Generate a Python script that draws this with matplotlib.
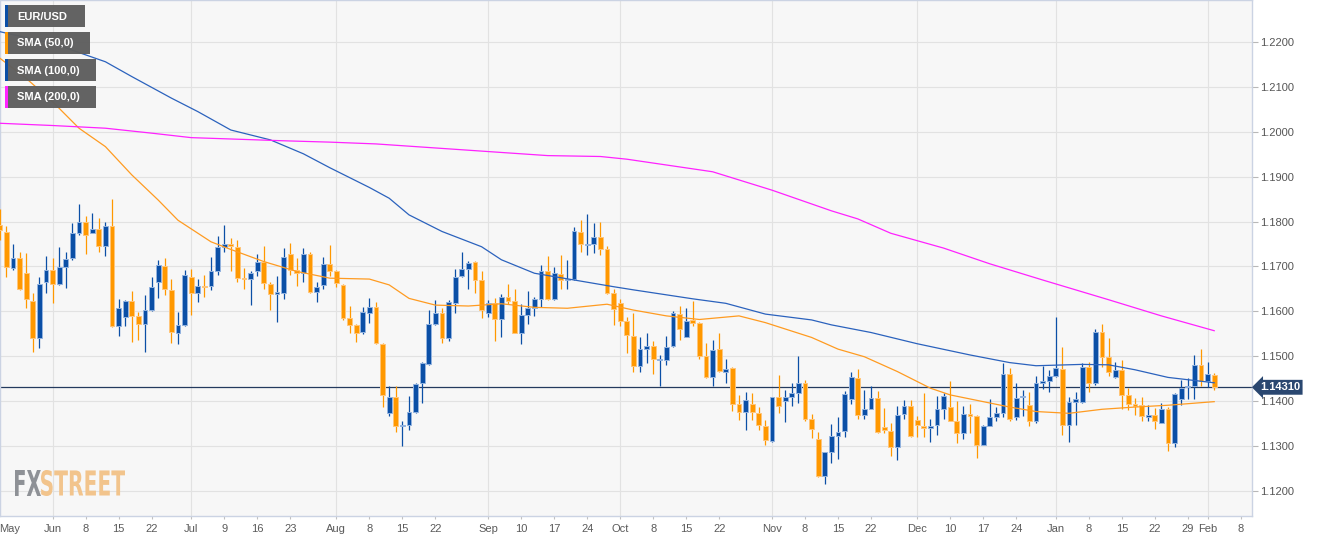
import numpy as np
import pandas as pd
import matplotlib
matplotlib.use("Agg")
import matplotlib.pyplot as plt
from matplotlib.textpath import TextPath
from matplotlib.patches import PathPatch, Rectangle
from matplotlib.font_manager import FontProperties
from matplotlib.transforms import Affine2D, blended_transform_factory

plt.rcParams['font.family'] = ['Liberation Sans', 'DejaVu Sans']

start = "2018-05-22"

# daily candles EUR/USD
opens = [1.1792, 1.1777, 1.1696, 1.1719, 1.1686, 1.1624, 1.1540, 1.1666, 1.1692, 1.1661,
         1.1699, 1.1718, 1.1774, 1.1799, 1.1775, 1.1783, 1.1745, 1.1791, 1.1568, 1.1588,
         1.1623, 1.1590, 1.1571, 1.1603, 1.1665, 1.1702, 1.1647, 1.1553, 1.1570, 1.1676,
         1.1640, 1.1657, 1.1657, 1.1691, 1.1744, 1.1751, 1.1743, 1.1674, 1.1672, 1.1691,
         1.1711, 1.1661, 1.1639, 1.1642, 1.1727, 1.1692, 1.1686, 1.1728, 1.1644, 1.1659,
         1.1706, 1.1691, 1.1659, 1.1585, 1.1569, 1.1554, 1.1596, 1.1609, 1.1527, 1.1373,
         1.1410, 1.1345, 1.1346, 1.1377, 1.1440, 1.1483, 1.1572, 1.1597, 1.1540, 1.1618,
         1.1679, 1.1694, 1.1709, 1.1671, 1.1597, 1.1619, 1.1582, 1.1631, 1.1623, 1.1551,
         1.1593, 1.1607, 1.1627, 1.1690, 1.1627, 1.1683, 1.1670, 1.1672, 1.1776, 1.1748,
         1.1749, 1.1766, 1.1739, 1.1642, 1.1618, 1.1579, 1.1546, 1.1479, 1.1516, 1.1523,
         1.1491, 1.1492, 1.1522, 1.1594, 1.1542, 1.1581, 1.1574, 1.1501, 1.1453, 1.1516,
         1.1466, 1.1473, 1.1393, 1.1375, 1.1394, 1.1373, 1.1345, 1.1312, 1.1409, 1.1401,
         1.1409, 1.1419, 1.1441, 1.1361, 1.1316, 1.1234, 1.1286, 1.1323, 1.1334, 1.1404,
         1.1451, 1.1369, 1.1383, 1.1407, 1.1342, 1.1334, 1.1297, 1.1371, 1.1390, 1.1358,
         1.1345, 1.1340, 1.1346, 1.1383, 1.1388, 1.1355, 1.1329, 1.1371, 1.1366, 1.1303,
         1.1345, 1.1365, 1.1373, 1.1461, 1.1364, 1.1410, 1.1392, 1.1355, 1.1441, 1.1444,
         1.1456, 1.1472, 1.1346, 1.1399, 1.1398, 1.1477, 1.1441, 1.1555, 1.1498, 1.1455,
         1.1470, 1.1414, 1.1393, 1.1392, 1.1364, 1.1369, 1.1352, 1.1382, 1.1308, 1.1405,
         1.1431, 1.1434, 1.1481, 1.1445, 1.1459]
highs = [1.1829, 1.1791, 1.1751, 1.1733, 1.1729, 1.1640, 1.1676, 1.1724, 1.1718, 1.1744,
         1.1733, 1.1796, 1.1840, 1.1812, 1.1820, 1.1809, 1.1800, 1.1851, 1.1627, 1.1625,
         1.1645, 1.1598, 1.1636, 1.1676, 1.1714, 1.1718, 1.1673, 1.1599, 1.1692, 1.1694,
         1.1673, 1.1681, 1.1722, 1.1768, 1.1793, 1.1763, 1.1758, 1.1696, 1.1690, 1.1727,
         1.1746, 1.1666, 1.1678, 1.1741, 1.1752, 1.1718, 1.1741, 1.1733, 1.1665, 1.1722,
         1.1748, 1.1692, 1.1661, 1.1611, 1.1572, 1.1609, 1.1629, 1.1620, 1.1529, 1.1433,
         1.1433, 1.1356, 1.1412, 1.1441, 1.1488, 1.1603, 1.1625, 1.1607, 1.1625, 1.1694,
         1.1733, 1.1712, 1.1712, 1.1691, 1.1625, 1.1629, 1.1639, 1.1660, 1.1651, 1.1616,
         1.1646, 1.1633, 1.1703, 1.1723, 1.1700, 1.1726, 1.1714, 1.1789, 1.1803, 1.1817,
         1.1796, 1.1798, 1.1745, 1.1651, 1.1627, 1.1588, 1.1596, 1.1542, 1.1551, 1.1534,
         1.1503, 1.1546, 1.1600, 1.1611, 1.1607, 1.1623, 1.1577, 1.1529, 1.1536, 1.1553,
         1.1493, 1.1477, 1.1414, 1.1421, 1.1418, 1.1388, 1.1358, 1.1410, 1.1458, 1.1425,
         1.1441, 1.1501, 1.1447, 1.1371, 1.1332, 1.1286, 1.1349, 1.1364, 1.1423, 1.1464,
         1.1471, 1.1424, 1.1434, 1.1423, 1.1384, 1.1351, 1.1389, 1.1403, 1.1403, 1.1367,
         1.1419, 1.1360, 1.1412, 1.1419, 1.1444, 1.1401, 1.1389, 1.1393, 1.1370, 1.1347,
         1.1404, 1.1388, 1.1486, 1.1475, 1.1441, 1.1425, 1.1421, 1.1456, 1.1478, 1.1470,
         1.1588, 1.1520, 1.1410, 1.1421, 1.1486, 1.1488, 1.1560, 1.1572, 1.1541, 1.1488,
         1.1492, 1.1429, 1.1407, 1.1410, 1.1392, 1.1384, 1.1395, 1.1386, 1.1418, 1.1447,
         1.1451, 1.1503, 1.1516, 1.1488, 1.1462]
lows = [1.1759, 1.1676, 1.1692, 1.1647, 1.1607, 1.1510, 1.1518, 1.1640, 1.1618, 1.1659,
        1.1653, 1.1714, 1.1770, 1.1728, 1.1774, 1.1733, 1.1724, 1.1566, 1.1545, 1.1567,
        1.1532, 1.1536, 1.1509, 1.1601, 1.1630, 1.1636, 1.1529, 1.1527, 1.1567, 1.1592,
        1.1620, 1.1633, 1.1648, 1.1680, 1.1733, 1.1691, 1.1666, 1.1649, 1.1615, 1.1678,
        1.1649, 1.1603, 1.1576, 1.1627, 1.1681, 1.1657, 1.1665, 1.1642, 1.1620, 1.1649,
        1.1679, 1.1654, 1.1581, 1.1551, 1.1531, 1.1549, 1.1574, 1.1528, 1.1388, 1.1366,
        1.1331, 1.1301, 1.1335, 1.1374, 1.1395, 1.1481, 1.1570, 1.1530, 1.1535, 1.1596,
        1.1677, 1.1651, 1.1642, 1.1585, 1.1588, 1.1533, 1.1542, 1.1616, 1.1551, 1.1527,
        1.1572, 1.1590, 1.1609, 1.1625, 1.1625, 1.1651, 1.1649, 1.1671, 1.1733, 1.1726,
        1.1729, 1.1726, 1.1638, 1.1570, 1.1568, 1.1507, 1.1464, 1.1464, 1.1485, 1.1461,
        1.1433, 1.1481, 1.1520, 1.1536, 1.1542, 1.1568, 1.1494, 1.1451, 1.1433, 1.1466,
        1.1440, 1.1379, 1.1358, 1.1336, 1.1358, 1.1336, 1.1303, 1.1310, 1.1373, 1.1353,
        1.1390, 1.1395, 1.1355, 1.1317, 1.1232, 1.1215, 1.1263, 1.1271, 1.1321, 1.1393,
        1.1360, 1.1360, 1.1382, 1.1329, 1.1329, 1.1277, 1.1269, 1.1360, 1.1320, 1.1320,
        1.1320, 1.1310, 1.1325, 1.1361, 1.1355, 1.1306, 1.1315, 1.1330, 1.1273, 1.1303,
        1.1345, 1.1355, 1.1365, 1.1355, 1.1358, 1.1366, 1.1345, 1.1352, 1.1427, 1.1421,
        1.1455, 1.1325, 1.1310, 1.1346, 1.1395, 1.1421, 1.1436, 1.1477, 1.1456, 1.1451,
        1.1382, 1.1381, 1.1369, 1.1355, 1.1355, 1.1337, 1.1351, 1.1290, 1.1299, 1.1392,
        1.1406, 1.1404, 1.1434, 1.1432, 1.1424]
closes = [1.1781, 1.1698, 1.1719, 1.1651, 1.1627, 1.1540, 1.1662, 1.1692, 1.1660, 1.1698,
          1.1717, 1.1774, 1.1799, 1.1771, 1.1784, 1.1745, 1.1791, 1.1568, 1.1608, 1.1623,
          1.1590, 1.1572, 1.1604, 1.1655, 1.1703, 1.1649, 1.1555, 1.1570, 1.1681, 1.1640,
          1.1657, 1.1655, 1.1690, 1.1743, 1.1751, 1.1746, 1.1675, 1.1672, 1.1685, 1.1711,
          1.1664, 1.1639, 1.1643, 1.1721, 1.1692, 1.1686, 1.1728, 1.1644, 1.1655, 1.1706,
          1.1691, 1.1663, 1.1585, 1.1569, 1.1553, 1.1598, 1.1609, 1.1529, 1.1413, 1.1410,
          1.1345, 1.1347, 1.1377, 1.1438, 1.1484, 1.1571, 1.1597, 1.1540, 1.1622, 1.1677,
          1.1694, 1.1707, 1.1671, 1.1603, 1.1619, 1.1583, 1.1631, 1.1624, 1.1553, 1.1592,
          1.1607, 1.1627, 1.1690, 1.1627, 1.1685, 1.1670, 1.1672, 1.1778, 1.1749, 1.1749,
          1.1766, 1.1739, 1.1640, 1.1605, 1.1579, 1.1548, 1.1479, 1.1516, 1.1523, 1.1493,
          1.1493, 1.1520, 1.1596, 1.1560, 1.1579, 1.1575, 1.1501, 1.1453, 1.1514, 1.1468,
          1.1471, 1.1394, 1.1377, 1.1403, 1.1375, 1.1347, 1.1314, 1.1410, 1.1389, 1.1409,
          1.1418, 1.1440, 1.1361, 1.1338, 1.1234, 1.1286, 1.1323, 1.1332, 1.1416, 1.1453,
          1.1369, 1.1383, 1.1407, 1.1332, 1.1335, 1.1297, 1.1369, 1.1390, 1.1323, 1.1346,
          1.1340, 1.1345, 1.1382, 1.1412, 1.1357, 1.1329, 1.1371, 1.1366, 1.1303, 1.1345,
          1.1364, 1.1373, 1.1461, 1.1360, 1.1407, 1.1412, 1.1355, 1.1440, 1.1444, 1.1456,
          1.1473, 1.1346, 1.1399, 1.1404, 1.1477, 1.1441, 1.1555, 1.1499, 1.1464, 1.1470,
          1.1414, 1.1394, 1.1389, 1.1366, 1.1369, 1.1355, 1.1382, 1.1308, 1.1415, 1.1429,
          1.1434, 1.1481, 1.1445, 1.1460, 1.1431]

# moving averages, read at some trading-day positions
sma50_idx = [0, 4, 8, 12, 16, 20, 24, 27, 32, 35, 40, 45, 50, 56, 59, 62, 66, 71, 76, 81,
             86, 92, 96, 101, 106, 112, 116, 123, 127, 131, 136, 141, 144, 149, 153, 157,
             162, 167, 172, 177, 184]
sma50_val = [1.2164, 1.2119, 1.2067, 1.2008, 1.1967, 1.1904, 1.1848, 1.1803, 1.1755, 1.1738,
             1.1711, 1.1689, 1.1674, 1.1672, 1.1659, 1.1629, 1.1614, 1.1612, 1.1617, 1.1609,
             1.1607, 1.1616, 1.1603, 1.1590, 1.1582, 1.1590, 1.1575, 1.1542, 1.1516, 1.1499,
             1.1466, 1.1429, 1.1414, 1.1399, 1.1387, 1.1377, 1.1373, 1.1382, 1.1387, 1.1391,
             1.1399]
sma100_idx = [0, 8, 16, 20, 26, 30, 35, 41, 46, 50, 56, 59, 62, 67, 73, 76, 81, 93, 96,
              105, 110, 116, 123, 126, 132, 139, 147, 153, 157, 164, 168, 172, 177, 184]
sma100_val = [1.2223, 1.2197, 1.2156, 1.2123, 1.2075, 1.2045, 1.2004, 1.1982, 1.1951, 1.1920,
              1.1876, 1.1852, 1.1815, 1.1778, 1.1744, 1.1715, 1.1685, 1.1655, 1.1648, 1.1628,
              1.1618, 1.1594, 1.1581, 1.1570, 1.1553, 1.1528, 1.1503, 1.1486, 1.1479, 1.1482,
              1.1481, 1.1470, 1.1453, 1.1441]
sma200_idx = [0, 8, 16, 23, 29, 35, 43, 50, 57, 68, 74, 83, 91, 95, 108, 117, 126, 130,
              135, 143, 150, 158, 168, 176, 184]
sma200_val = [1.2019, 1.2014, 1.2008, 1.1997, 1.1987, 1.1984, 1.1980, 1.1977, 1.1973, 1.1962,
              1.1956, 1.1947, 1.1945, 1.1939, 1.1911, 1.1870, 1.1824, 1.1806, 1.1774, 1.1741,
              1.1706, 1.1670, 1.1626, 1.1590, 1.1557]

last_price = 1.1431

tick_dates = ["2018-06-01", "2018-06-08", "2018-06-15", "2018-06-22", "2018-07-02",
              "2018-07-09", "2018-07-16", "2018-07-23", "2018-08-01", "2018-08-08",
              "2018-08-15", "2018-08-22", "2018-09-03", "2018-09-10", "2018-09-17",
              "2018-09-24", "2018-10-01", "2018-10-08", "2018-10-15", "2018-10-22",
              "2018-11-01", "2018-11-08", "2018-11-15", "2018-11-22", "2018-12-03",
              "2018-12-10", "2018-12-17", "2018-12-24", "2019-01-01", "2019-01-08",
              "2019-01-15", "2019-01-22", "2019-01-29", "2019-02-01", "2019-02-08"]

legend_names = ["EUR/USD", "SMA (50,0)", "SMA (100,0)", "SMA (200,0)"]

col_up = "#0b4fa6"
col_up_edge = "#93b3df"
col_dn = "#ff9800"
col_dn_edge = "#ffc57a"
col_sma50 = "#ff9b21"
col_sma100 = "#2b62bd"
col_sma200 = "#ff22ff"
legend_cols = [col_up, col_dn, col_up, col_sma200]

W, H = 1323, 541


def draw_candles(ax, o, h, l, c):
    o = np.array(o); h = np.array(h); l = np.array(l); c = np.array(c)
    idx = np.arange(len(o))
    up = c >= o
    ax.vlines(idx[up], l[up], h[up], color=col_up, lw=0.9, zorder=3)
    ax.vlines(idx[~up], l[~up], h[~up], color=col_dn, lw=0.9, zorder=3)
    bottom = np.minimum(o, c)
    height = np.maximum(np.abs(c - o), 0.00004)
    ax.bar(idx[up], height[up], bottom=bottom[up], width=0.72, color=col_up,
           edgecolor=col_up_edge, lw=0.7, zorder=4)
    ax.bar(idx[~up], height[~up], bottom=bottom[~up], width=0.72, color=col_dn,
           edgecolor=col_dn_edge, lw=0.7, zorder=4)


def draw_logo(fig):
    fp = FontProperties(family="DejaVu Sans", weight="bold")
    to_fig = Affine2D().scale(1.0 / W, 1.0 / H) + fig.transFigure
    # (text, left px, width px, colour)
    parts = [("FX", 15, 26, "#8e9196"), ("STREET", 41, 84, "#f2c48c")]
    for txt, x0, wd, col in parts:
        tp = TextPath((0, 0), txt, size=100, prop=fp)
        ext = tp.get_extents()
        aff = Affine2D().translate(-ext.x0, -ext.y0).scale(wd / ext.width, 26 / ext.height)
        aff = aff.translate(x0, H - 496)
        fig.add_artist(PathPatch(aff.transform_path(tp), fc=col, ec="none",
                                 transform=to_fig))


def draw_legend(fig):
    widths = [80, 85, 91, 91]
    for k, name in enumerate(legend_names):
        top = 5 + k * 27
        fig.add_artist(Rectangle((5 / W, 1 - (top + 22) / H), widths[k] / W, 22 / H,
                                 transform=fig.transFigure, fc="#5e5e5e", ec="none",
                                 alpha=0.97, zorder=10))
        fig.add_artist(Rectangle((5 / W, 1 - (top + 22) / H), 3 / W, 22 / H,
                                 transform=fig.transFigure, fc=legend_cols[k], ec="none",
                                 zorder=11))
        fig.text(17 / W, 1 - (top + 11.5) / H, name, color="white", fontsize=8,
                 fontweight="bold", va="center", ha="left", zorder=12)


fig = plt.figure(figsize=(W / 100, H / 100), dpi=100)
fig.patch.set_facecolor("white")
ax = fig.add_axes([0, 25 / H, 1252 / W, 516 / H])
ax.set_facecolor("#f7f7f7")

draw_candles(ax, opens, highs, lows, closes)
ax.plot(sma50_idx, sma50_val, color=col_sma50, lw=0.9, zorder=5)
ax.plot(sma100_idx, sma100_val, color=col_sma100, lw=0.9, zorder=5)
ax.plot(sma200_idx, sma200_val, color=col_sma200, lw=0.9, zorder=5)
ax.axhline(last_price, color="#243a5e", lw=0.9, zorder=2)

# x axis: trading day index
tick_idx = [np.busday_count(start, d) for d in tick_dates]
tick_lab = []
for d in tick_dates:
    t = pd.Timestamp(d)
    tick_lab.append(t.strftime("%b") if t.day <= 3 else str(t.day))
ax.set_xticks(tick_idx)
ax.set_xticklabels(tick_lab)
for i, lab in zip(tick_idx, tick_lab):
    if not lab.isdigit():
        ax.axvline(i, color="#e2e2e2", lw=0.8, zorder=0)
ax.text(1.55, -13 / 516, "May", transform=ax.get_xaxis_transform(), ha="center",
        va="center", fontsize=8, color="#5a5a5a")

ax.set_xlim(0.2 / 6.6, 1252.2 / 6.6)
ax.set_ylim(1.22 - 474 / 4490, 1.22 + 42 / 4490)

ax.yaxis.tick_right()
ax.set_yticks(np.arange(1.12, 1.2201, 0.01))
ax.yaxis.set_major_formatter(plt.FormatStrFormatter("%.4f"))
ax.yaxis.grid(True, color="#e2e2e2", lw=0.8, zorder=0)
ax.set_axisbelow(True)
ax.tick_params(axis="y", length=4, width=0.8, color="#b8b8b8", labelcolor="#555555",
               labelsize=8, pad=2)
ax.tick_params(axis="x", length=2.5, width=0.8, color="#c0c0c0", labelcolor="#5a5a5a",
               labelsize=8, pad=3.5)
for sp in ax.spines.values():
    sp.set_color("#cbd3e3")
    sp.set_linewidth(1.0)

# last price tag
trans = blended_transform_factory(ax.transAxes, ax.transData)
ax.text(1260 / 1252, last_price, "1.14310", transform=trans, ha="left", va="center",
        color="white", fontsize=8, fontweight="bold", zorder=8, clip_on=False,
        bbox=dict(boxstyle="larrow,pad=0.22", fc="#2a4770", ec="none"))

draw_logo(fig)
draw_legend(fig)

fig.savefig("out.png", dpi=100)
